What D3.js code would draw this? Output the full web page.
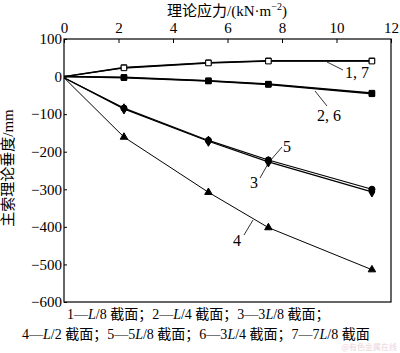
<!DOCTYPE html>
<html><head><meta charset="utf-8">
<script src="https://cdn.jsdelivr.net/npm/d3@7"></script>
<style>body{margin:0;background:#fff}svg{display:block}</style>
</head><body>
<svg id="c" width="400" height="353"></svg>
<script>
const xs = [0, 2.2, 5.3, 7.5, 11.3];
const s1 = [0, 24, 37, 42, 42];
const s7 = [0, 23, 36, 41, 41];
const s2 = [0, -2, -11, -20, -44];
const s6 = [0, -3, -12, -21, -46];
const s3 = [-3, -86, -172, -227, -307];
const s5 = [-3, -84, -170, -222, -300];
const s4 = [-3, -161, -308, -402, -514];
const xTicks = [0, 2, 4, 6, 8, 10, 12];
const yTicks = [100, 0, -100, -200, -300, -400, -500, -600];

const svg = d3.select("#c");
const L = 64, R = 391, T = 39, B = 302;
const x = d3.scaleLinear().domain([0, 12]).range([L, R]);
const y = d3.scaleLinear().domain([-600, 100]).range([B, T]);
const serif = "'Liberation Serif','Times New Roman',serif";
const cjk = "'Liberation Serif','Noto Sans CJK SC',serif";

svg.append("rect").attr("x", L).attr("y", T).attr("width", R - L).attr("height", B - T)
  .attr("fill", "none").attr("stroke", "#000").attr("stroke-width", 1.2);

const xa = svg.append("g").attr("transform", `translate(0,${T})`)
  .call(d3.axisTop(x).tickValues(xTicks).tickSize(-4).tickPadding(6).tickFormat(d3.format("d")));
const ya = svg.append("g").attr("transform", `translate(${L},0)`)
  .call(d3.axisLeft(y).tickValues(yTicks).tickSize(-3).tickPadding(5).tickFormat(d => d < 0 ? "\u2212" + Math.abs(d) : d));
[xa, ya].forEach(g => {
  g.select(".domain").remove();
  g.selectAll("text").attr("font-family", serif).attr("font-size", 15).attr("fill", "#000");
  g.selectAll("line").attr("stroke", "#000");
});
ya.selectAll("text").attr("dx", "0.2em");

const line = d3.line().x((d, i) => x(xs[i])).y(d => y(d));
function series(vals, w, shape, fill) {
  svg.append("path").datum(vals).attr("d", line).attr("fill", "none")
    .attr("stroke", "#000").attr("stroke-width", w);
  svg.selectAll(null).data(vals.slice(1)).enter().append("path")
    .attr("transform", (d, i) => `translate(${x(xs[i + 1])},${y(d)})`)
    .attr("d", d3.symbol().type(shape).size(shape === d3.symbolTriangle ? 24 : 30))
    .attr("fill", fill).attr("stroke", "#000").attr("stroke-width", 1);
}
series(s1, 1.4, d3.symbolSquare, "#fff");
series(s7, 1.4, d3.symbolSquare, "#fff");
series(s2, 1.5, d3.symbolSquare, "#000");
series(s6, 1.5, d3.symbolSquare, "#000");
series(s3, 1.2, d3.symbolDiamond, "#000");
series(s5, 1.2, d3.symbolCircle, "#000");
series(s4, 1, d3.symbolTriangle, "#000");

function leader(x1, y1, x2, y2) {
  svg.append("line").attr("x1", x1).attr("y1", y1).attr("x2", x2).attr("y2", y2)
    .attr("stroke", "#000").attr("stroke-width", 0.8);
}
function lab(t, px, py) {
  svg.append("text").attr("x", px).attr("y", py).text(t)
    .attr("font-family", serif).attr("font-size", 16).attr("fill", "#000");
}
leader(327, 62, 343, 70); lab("1, 7", 345, 78);
leader(315, 91, 327, 106); lab("2, 6", 317, 121);
leader(270, 161, 282, 147); lab("5", 283, 152);
leader(269, 162, 260, 178); lab("3", 250, 188);
leader(253, 220, 244, 235); lab("4", 233, 246);

const xt = svg.append("text").attr("x", 227).attr("y", 16).attr("text-anchor", "middle")
  .attr("font-family", cjk).attr("font-size", 15).attr("fill", "#000");
xt.append("tspan").text("理论应力/(kN·m");
xt.append("tspan").attr("dy", -6).attr("font-size", 10).text("\u22122");
xt.append("tspan").attr("dy", 6).text(")");

svg.append("text").attr("transform", "translate(13,168) rotate(-90)").attr("text-anchor", "middle")
  .attr("font-family", cjk).attr("font-size", 15).attr("fill", "#000").text("主索理论垂度/mm");

function note(parts, px, py) {
  const t = svg.append("text").attr("x", px).attr("y", py)
    .attr("font-family", cjk).attr("font-size", 14).attr("fill", "#000");
  parts.forEach(p => {
    const s = t.append("tspan").text(p.replace(/^_/, ""));
    if (p.startsWith("_")) s.attr("font-style", "italic");
  });
}
note(["1—", "_L", "/8 截面；2—", "_L", "/4 截面；3—3", "_L", "/8 截面；"], 67, 319);
note(["4—", "_L", "/2 截面；5—5", "_L", "/8 截面；6—3", "_L", "/4 截面；7—7", "_L", "/8 截面"], 22, 339);

svg.append("text").attr("x", 397).attr("y", 350).attr("text-anchor", "end")
  .attr("font-family", "'Noto Sans CJK SC',sans-serif").attr("font-size", 8)
  .attr("fill", "#e9c9cf").attr("opacity", 0.8).text("@有色金属在线");
</script>
</body></html>
